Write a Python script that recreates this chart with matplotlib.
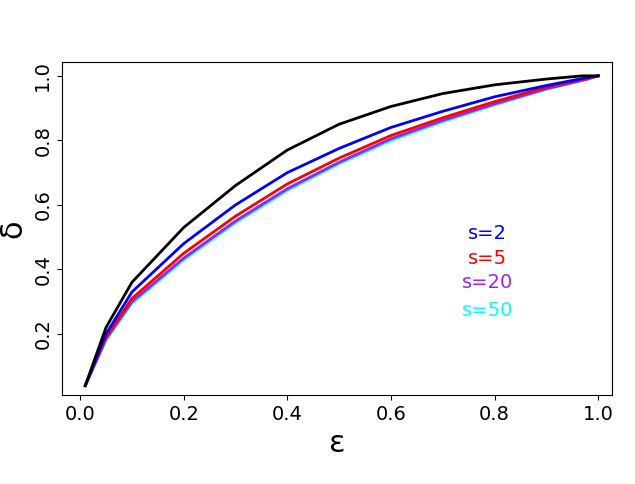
import matplotlib
matplotlib.use("Agg")
import matplotlib.pyplot as plt

eps = [0.01, 0.05, 0.1, 0.2, 0.3, 0.4, 0.5, 0.6, 0.7, 0.8, 0.9, 0.97, 1.0]
black = [0.04, 0.22, 0.36, 0.53, 0.66, 0.77, 0.85, 0.905, 0.945, 0.972, 0.99, 1.0, 1.0]
eps_s = [0.01, 0.05, 0.1, 0.2, 0.3, 0.4, 0.5, 0.6, 0.7, 0.8, 0.9, 0.98, 1.0]
s2 = [0.04, 0.2, 0.33, 0.48, 0.6, 0.7, 0.775, 0.84, 0.89, 0.935, 0.97, 0.995, 1.0]
s5 = [0.04, 0.19, 0.31, 0.45, 0.565, 0.665, 0.745, 0.815, 0.87, 0.92, 0.965, 0.993, 1.0]
s20 = [0.04, 0.185, 0.3, 0.435, 0.55, 0.65, 0.732, 0.805, 0.862, 0.913, 0.96, 0.99, 1.0]
s50 = [0.04, 0.18, 0.295, 0.43, 0.545, 0.645, 0.728, 0.80, 0.858, 0.91, 0.958, 0.99, 1.0]
labels = ["s=2", "s=5", "s=20", "s=50"]
colors = ["#0000FF", "#FF0000", "#A020F0", "#00FFFF"]
label_y = [0.51, 0.433, 0.358, 0.274]

fig = plt.figure(figsize=(6.35, 4.84), dpi=100)
ax = fig.add_axes([0.0976, 0.184, 0.8664, 0.688])
for ys, c in zip([s50, s20, s5, s2], colors[::-1]):
    ax.plot(eps_s, ys, color=c, lw=2)
ax.plot(eps, black, color="black", lw=2)
for lab, c, y in zip(labels, colors, label_y):
    ax.text(0.786, y, lab, color=c, fontsize=14, ha="center", va="center")
ax.set_xlim(-0.035, 1.027)
ax.set_ylim(0.011, 1.043)
ax.set_xticks([0, 0.2, 0.4, 0.6, 0.8, 1.0])
ax.set_yticks([0.2, 0.4, 0.6, 0.8, 1.0])
ax.tick_params(labelsize=14)
for t in ax.get_yticklabels():
    t.set_rotation(90)
    t.set_va("center")
ax.set_xlabel("ε", fontsize=22)
ax.set_ylabel("δ", fontsize=22)
fig.savefig("out.png", dpi=100)
